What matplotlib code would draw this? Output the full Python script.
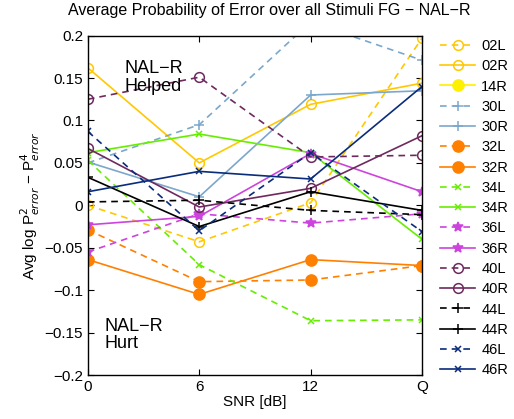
import numpy as np
import matplotlib
matplotlib.use("Agg")
import matplotlib.pyplot as plt

plt.rcParams['font.family'] = ['Liberation Sans', 'DejaVu Sans']

snr_labels = ['0', '6', '12', 'Q']

# avg log P2_error - P4_error per listener ear
s02L = [0.000, -0.043, 0.003, 0.197]
s02R = [0.162, 0.050, 0.119, 0.144]
s14R = [np.nan, np.nan, np.nan, np.nan]
s30L = [0.050, 0.095, 0.216, 0.171]
s30R = [0.051, 0.010, 0.130, 0.135]
s32L = [-0.029, -0.090, -0.088, -0.071]
s32R = [-0.064, -0.105, -0.064, -0.071]
s34L = [0.053, -0.070, -0.136, -0.135]
s34R = [0.062, 0.084, 0.062, -0.040]
s36L = [-0.055, -0.010, -0.021, -0.010]
s36R = [-0.023, -0.013, 0.061, 0.016]
s40L = [0.125, 0.151, 0.057, 0.059]
s40R = [0.067, -0.002, 0.020, 0.082]
s44L = [0.004, 0.006, -0.006, -0.011]
s44R = [0.033, -0.025, 0.016, -0.006]
s46L = [0.087, -0.030, 0.062, -0.031]
s46R = [0.016, 0.040, 0.031, 0.140]

series = [
    ('02L', s02L, '#FFC800', '--', 'o', 'none'),
    ('02R', s02R, '#FFC800', '-', 'o', 'none'),
    ('14R', s14R, '#FFF000', '-', 'o', 'full'),
    ('30L', s30L, '#7BA7CC', '--', '+', 'full'),
    ('30R', s30R, '#7BA7CC', '-', '+', 'full'),
    ('32L', s32L, '#FF8000', '--', 'o', 'full'),
    ('32R', s32R, '#FF8000', '-', 'o', 'full'),
    ('34L', s34L, '#66EE00', '--', 'x', 'full'),
    ('34R', s34R, '#66EE00', '-', 'x', 'full'),
    ('36L', s36L, '#CC44DD', '--', '*', 'full'),
    ('36R', s36R, '#CC44DD', '-', '*', 'full'),
    ('40L', s40L, '#6E2A5E', '--', 'o', 'none'),
    ('40R', s40R, '#6E2A5E', '-', 'o', 'none'),
    ('44L', s44L, '#000000', '--', '+', 'full'),
    ('44R', s44R, '#000000', '-', '+', 'full'),
    ('46L', s46L, '#0A2C7C', '--', 'x', 'full'),
    ('46R', s46R, '#0A2C7C', '-', 'x', 'full'),
]

marker_size = {'o': 7, '+': 7, 'x': 5, '*': 7}

fig = plt.figure(figsize=(5.14, 4.19), dpi=100)
ax = fig.add_axes([0.171, 0.105, 0.650, 0.810])

x = np.arange(len(snr_labels))
for name, vals, col, ls, mk, fill in series:
    ms = marker_size[mk]
    if mk == 'o' and fill == 'full':
        ms = 8
    kw = dict(color=col, linestyle=ls, marker=mk, markersize=ms,
              markeredgewidth=1.1, linewidth=1.2, label=name)
    if fill == 'none':
        kw['markerfacecolor'] = 'none'
    if ls == '--':
        kw['dashes'] = (4, 3)
    ax.plot(x, vals, **kw)

ax.set_xlim(0, 3)
ax.set_ylim(-0.2, 0.2)
ax.set_xticks(x)
ax.set_xticklabels(snr_labels)
yt = np.arange(-0.2, 0.201, 0.05)
ax.set_yticks(yt)
ax.set_yticklabels(['\u22120.2', '\u22120.15', '\u22120.1', '\u22120.05', '0',
                    '0.05', '0.1', '0.15', '0.2'])
ax.tick_params(direction='in', top=True, right=True, labelsize=11, length=4)
for sp in ax.spines.values():
    sp.set_linewidth(1.0)

fig.text(269 / 514, 1 - 11 / 419,
         'Average Probability of Error over all Stimuli FG \u2212 NAL\u2212R',
         fontsize=11.5, ha='center', va='center')
ax.set_xlabel('SNR [dB]', fontsize=11, labelpad=1)
ax.set_ylabel('Avg log P$^2_{error}$ \u2212 P$^4_{error}$', fontsize=11, labelpad=2)

ax.text(0.33, 0.151, 'NAL\u2212R\nHelped', fontsize=13, va='center', linespacing=1.05)
ax.text(0.15, -0.153, 'NAL\u2212R\nHurt', fontsize=13, va='center', linespacing=1.05)

ax.legend(loc='upper left', bbox_to_anchor=(1.055, 0.99), frameon=False,
          fontsize=10.5, handlelength=2.4, handletextpad=0.4, labelspacing=0.43,
          borderaxespad=0.0, borderpad=0.0)

fig.savefig('out.png', dpi=100)
